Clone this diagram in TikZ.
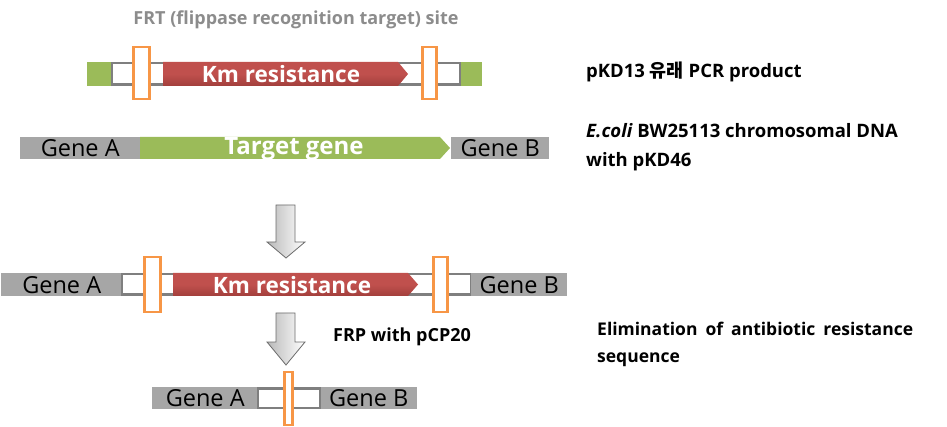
\documentclass[tikz,border=0pt]{standalone}
\usepackage{fontspec}
\setmainfont{Open Sans}
\newfontfamily\krfont{Noto Sans CJK KR}
\usetikzlibrary{calc}
\definecolor{bargray}{HTML}{A6A6A6}
\definecolor{boxgray}{HTML}{7F7F7F}
\definecolor{kmred}{HTML}{C0504D}
\definecolor{kmdark}{HTML}{A23F3C}
\definecolor{tgreen}{HTML}{9BBB59}
\definecolor{frtorange}{HTML}{F79646}
\definecolor{titlegray}{HTML}{8C8C8C}
\begin{document}
\begin{tikzpicture}[x=1pt,y=-1pt,
  genebar/.style={fill=bargray, inner sep=0pt, anchor=north west,
    font=\fontsize{23.5}{26}\selectfont, text=black},
  flank/.style={fill=white, draw=boxgray, line width=2.5pt},
  greenend/.style={fill=tgreen},
  frt/.style={fill=white, draw=frtorange, line width=2.5pt},
  kmarrow/.style={top color=kmred, bottom color=kmdark, middle color=kmred},
  gfill/.style={fill=tgreen},
  boldwhite/.style={font=\bfseries\fontsize{22.5}{25}\selectfont, text=white, inner sep=0pt},
  label/.style={font=\bfseries\fontsize{18.5}{29}\selectfont, text=black, inner sep=0pt, anchor=west, align=left},
  downarrow/.style={left color=gray!55, right color=white, draw=gray!85!black, line width=0.8pt}
]
\useasboundingbox[fill=white] (0,0) rectangle (947,427);

% ---------- title ----------
\node[font=\bfseries\fontsize{18}{20}\selectfont, text=titlegray, inner sep=0pt] (title) at (296,20) {FRT (flippase recognition target) site};

% ---------- row 1: PCR product ----------
\fill[greenend] (87,62) rectangle (112,86);
\fill[greenend] (460,62) rectangle (482,86);
\draw[flank] (112,63.25) rectangle (460,84.75);
\path[kmarrow] (163,62) -- (398,62) -- (408,74) -- (398,86) -- (163,86) -- cycle;
\node[boldwhite] (km1) at (281,74) {Km resistance};
\draw[frt] (133.5,47) rectangle (149.5,99);
\draw[frt] (422.5,47) rectangle (436.5,99);
\node[label] (lab1) at (586,72) {pKD13 {\krfont 유래} PCR product};

% ---------- row 2: chromosome ----------
\node[genebar, minimum width=120pt, minimum height=22pt] (gA2) at (20,137) {Gene A};
\path[gfill] (140,137) -- (440,137) -- (450,148) -- (440,159) -- (140,159) -- cycle;
\node[boldwhite, font=\bfseries\fontsize{24}{26}\selectfont] (tg) at (294,149) {Target gene};
\node[genebar, minimum width=98pt, minimum height=22pt] (gB2) at (451,137) {Gene B};
\node[label] (lab2) at (586,147.5) {\textit{E.coli} BW25113 chromosomal DNA\\with pKD46};

% ---------- arrow 1 ----------
\path[downarrow] (276,205) -- (295,205) -- (295,242) -- (305,242) -- (286,258) -- (267,242) -- (276,242) -- cycle;

% ---------- row 3: inserted ----------
\node[genebar, minimum width=121pt, minimum height=23pt] (gA3) at (1,273) {Gene A};
\draw[flank] (122,274.25) rectangle (471,294.75);
\node[genebar, minimum width=96pt, minimum height=23pt] (gB3) at (471,273) {Gene B};
\path[kmarrow] (173,273) -- (408,273) -- (418,284.5) -- (408,296) -- (173,296) -- cycle;
\node[boldwhite] (km3) at (292,285) {Km resistance};
\draw[frt] (144.5,257) rectangle (160.5,312);
\draw[frt] (433.5,257) rectangle (447.5,312);

% ---------- arrow 2 ----------
\path[downarrow] (276,313) -- (295,313) -- (295,342) -- (305,342) -- (286,365) -- (267,342) -- (276,342) -- cycle;
\node[label, font=\bfseries\fontsize{18}{20}\selectfont] (frp) at (333,337) {FRP with pCP20};
\node[label, font=\bfseries\fontsize{17.5}{27}\selectfont] (lab3) at (597,344.5) {\makebox[316pt][s]{Elimination of antibiotic resistance}\\sequence};

% ---------- row 4: excised ----------
\node[genebar, minimum width=106pt, minimum height=22pt] (gA4) at (152,387) {Gene A};
\node[genebar, minimum width=97pt, minimum height=22pt] (gB4) at (320,387) {Gene B};
\draw[flank] (258,388.25) rectangle (320,407.75);
\draw[frt] (284.5,372) rectangle (292.5,425);
\end{tikzpicture}
\end{document}
